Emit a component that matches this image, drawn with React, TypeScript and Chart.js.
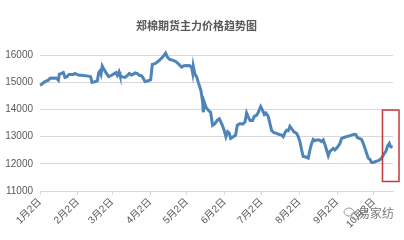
import React, { useEffect, useRef } from "react";
import { Chart, registerables } from "chart.js";

Chart.register(...registerables);

const chartTitle = "郑棉期货主力价格趋势图";

// day offsets from Jan 2
const days = [
  0, 1.4, 4.1, 6.8, 8.2, 10.9, 13.6, 15.0, 15.8, 19.1, 20.4, 21.8, 23.7, 27.2, 28.6, 31.3, 35.4, 39.5, 41.4,
  42.5, 45.0, 46.9, 48.0, 49.0, 49.9, 50.9, 52.3, 53.9, 56.1, 58.6, 60.5, 62.1, 63.2, 64.6, 65.4, 67.6,
  69.5, 71.4, 73.0, 74.9, 76.3, 77.7, 79.6, 81.2, 83.1, 84.5, 85.8, 88.5, 90.5, 91.8, 94.0, 95.9, 97.5,
  99.2, 100.8, 102.7, 104.1, 106.3, 109.0, 111.2, 113.6, 115.8, 117.7, 119.9, 122.6, 124.0, 124.8, 125.3,
  126.7, 128.1, 129.4, 130.5, 131.6, 133.0, 133.5, 134.3, 135.7, 137.6, 139.5, 141.1, 143.0, 144.9, 146.6,
  148.5, 150.4, 152.0, 153.4, 154.8, 155.9, 158.0, 159.9, 161.3, 163.5, 165.7, 167.6, 168.9, 170.3, 171.7,
  173.8, 175.2, 177.1, 178.5, 180.4, 182.0, 183.4, 184.7, 186.6, 188.0, 189.4, 191.3, 193.4, 195.6, 197.5,
  198.9, 200.3, 201.6, 203.0, 204.3, 205.7, 207.6, 209.8, 211.1, 212.5, 213.9, 215.2, 217.4, 219.3, 220.7,
  222.1, 223.4, 224.8, 226.1, 228.3, 230.2, 231.6, 233.0, 234.3, 235.7, 237.0, 238.4, 239.8, 241.1, 242.5,
  243.9, 245.2, 246.6, 248.5, 250.7, 252.8, 254.8, 256.7, 258.3, 259.4, 261.0, 262.9, 264.3, 265.7, 267.0,
  268.4, 269.7, 271.1, 272.5, 274.6, 276.6, 278.5, 280.1, 281.5, 282.8, 284.2, 285.6, 286.7, 288.3,
];

const prices = [
  14900, 14930, 15030, 15080, 15150, 15160, 15150, 15080, 15300, 15360, 15180, 15200, 15290, 15290, 15330, 15270, 15250, 15230, 15210,
  15000, 15020, 15060, 15360, 15420, 15300, 15600, 15480, 15360, 15210, 15260, 15320, 15360, 15260, 15390, 15260, 15200,
  15180, 15250, 15330, 15270, 15300, 15350, 15320, 15260, 15240, 15150, 15030, 15060, 15100, 15660, 15690, 15750, 15810,
  15880, 15960, 16080, 15930, 15840, 15810, 15760, 15660, 15560, 15610, 15620, 15610, 15540, 15350, 15600,
  15300, 15200, 15000, 14850, 14690, 14270, 13900, 14270, 14090, 13970, 13900, 13420, 13480, 13600, 13660,
  13480, 13260, 13000, 13180, 13120, 12940, 13000, 13060, 13420, 13480, 13460, 13540, 13870, 13720, 13600,
  13600, 13750, 13790, 13900, 14110, 13970, 13820, 13870, 13750, 13480, 13220, 13150, 13120, 13080, 13060,
  13000, 13150, 13240, 13220, 13380, 13300, 13180, 13120, 13000, 12820, 12510, 12270, 12250, 12210, 12510,
  12750, 12900, 12850, 12880, 12880, 12820, 12880, 12700, 12510, 12300, 12460, 12510, 12570, 12510, 12570,
  12660, 12750, 12940, 12970, 13000, 13030, 13060, 13090, 13080, 12970, 12940, 12900, 12750, 12570, 12390,
  12210, 12170, 12050, 12050, 12090, 12120, 12170, 12270, 12390, 12460, 12660, 12750, 12630, 12610,
];

const tickDays = [0, 31, 59, 90, 120, 151, 181, 212, 243, 273];
const tickLabels = ["1月2日", "2月2日", "3月2日", "4月2日", "5月2日", "6月2日", "7月2日", "8月2日", "9月2日", "10月2日"];

const highlightDays = [280, 293.5];
const highlightPrices = [11350, 13980];

const watermarkText = "易家纺";

const FONT = "'Liberation Sans', 'Noto Sans CJK SC', sans-serif";

const highlightPlugin = {
  id: "highlightBox",
  afterDatasetsDraw(chart: any) {
    const { ctx, scales } = chart;
    const x0 = scales.x.getPixelForValue(highlightDays[0]);
    const x1 = scales.x.getPixelForValue(highlightDays[1]);
    const y0 = scales.y.getPixelForValue(highlightPrices[1]);
    const y1 = scales.y.getPixelForValue(highlightPrices[0]);
    ctx.save();
    ctx.strokeStyle = "#c0393b";
    ctx.lineWidth = 1.5;
    ctx.strokeRect(x0, y0, x1 - x0, y1 - y0);
    ctx.restore();
  },
  afterDraw(chart: any) {
    const { ctx } = chart;
    ctx.save();
    ctx.strokeStyle = "#9a9a9a";
    ctx.lineWidth = 1;
    ctx.beginPath();
    ctx.ellipse(349, 212, 5, 4, 0, 0, Math.PI * 2);
    ctx.stroke();
    ctx.beginPath();
    ctx.ellipse(355, 216, 4, 3.5, 0, 0, Math.PI * 2);
    ctx.stroke();
    ctx.font = "12px 'Noto Sans CJK SC', sans-serif";
    ctx.textBaseline = "middle";
    ctx.textAlign = "left";
    ctx.fillStyle = "#7a7a7a";
    ctx.fillText(watermarkText, 358, 213);
    ctx.restore();
  },
};

export default function App() {
  const ref = useRef<HTMLCanvasElement | null>(null);
  useEffect(() => {
    if (!ref.current) return;
    const chart = new Chart(ref.current, {
      type: "line",
      data: {
        datasets: [
          {
            data: days.map((d, i) => ({ x: d, y: prices[i] })),
            borderColor: "#4f84b8",
            borderWidth: 3,
            pointRadius: 0,
            tension: 0,
            clip: false as any,
          },
        ],
      },
      options: {
        animation: false,
        responsive: true,
        maintainAspectRatio: false,
        layout: { padding: { left: 0, right: 11, top: 0, bottom: 0 } },
        plugins: {
          legend: { display: false },
          tooltip: { enabled: false },
          title: {
            display: true,
            text: chartTitle,
            color: "#595959",
            font: { family: "'Noto Sans CJK SC', sans-serif", size: 11, weight: "bold" },
            padding: { top: 19, bottom: 23 },
          },
        },
        scales: {
          x: {
            type: "linear",
            min: 0,
            max: 288.6,
            afterBuildTicks: (axis: any) => {
              axis.ticks = tickDays.map((v) => ({ value: v }));
            },
            afterFit: (axis: any) => {
              axis.height = 49;
            },
            ticks: {
              autoSkip: false,
              minRotation: 45,
              maxRotation: 45,
              color: "#595959",
              font: { family: FONT, size: 10 },
              padding: 1,
              callback: (v: any) => {
                const i = tickDays.indexOf(Number(v));
                return i >= 0 ? tickLabels[i] : "";
              },
            },
            grid: {
              display: true,
              drawOnChartArea: false,
              drawTicks: true,
              tickLength: 4,
              color: "#d9d9d9",
            },
            border: { display: true, color: "#d9d9d9" },
          },
          y: {
            min: 11000,
            max: 16000,
            afterFit: (axis: any) => {
              axis.width = 40;
            },
            ticks: {
              stepSize: 1000,
              color: "#595959",
              font: { family: FONT, size: 10 },
              padding: 7,
              callback: (v: any) => String(v),
            },
            grid: { color: "#d9d9d9", drawTicks: false },
            border: { display: false },
          },
        },
      },
      plugins: [highlightPlugin],
    });
    return () => chart.destroy();
  }, []);
  return (
    <div style={{ position: "fixed", left: 0, top: 0, width: 404, height: 240, background: "#fff" }}>
      <canvas ref={ref} />
    </div>
  );
}
